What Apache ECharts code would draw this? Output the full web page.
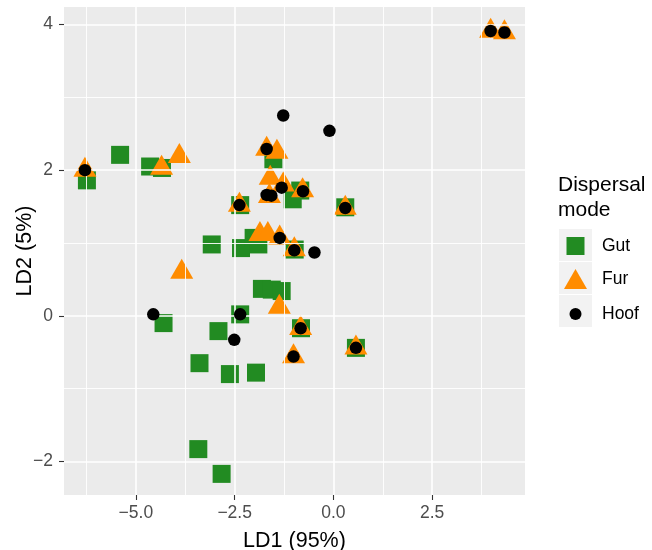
<!DOCTYPE html>
<html>
<head>
<meta charset="utf-8">
<script src="https://cdn.jsdelivr.net/npm/echarts@6/dist/echarts.min.js"></script>
<style>html,body{margin:0;padding:0;background:#fff}#c{width:652px;height:550px}</style>
</head>
<body>
<div id="c"></div>
<script>
// ---- data ----
const gut = [[-6.24,1.86],[-5.40,2.21],[-4.64,2.05],[-4.34,2.03],[-1.52,2.15],[-2.36,1.52],[-1.03,1.60],[-0.84,1.72],[0.30,1.49],[-3.08,0.98],[-2.34,0.93],[-2.02,1.07],[-1.90,0.98],[-0.98,0.91],[-1.81,0.37],[-1.56,0.36],[-1.31,0.34],[-2.36,0.02],[-4.30,-0.10],[-2.91,-0.21],[-0.82,-0.17],[-3.39,-0.65],[-2.62,-0.80],[-1.96,-0.78],[-3.42,-1.83],[-2.83,-2.17],[0.57,-0.44]];
const fur = [[-6.29,2.00],[-4.35,2.03],[-3.90,2.19],[-1.69,2.29],[-1.43,2.25],[-1.60,1.89],[-1.27,1.80],[-0.78,1.72],[-2.38,1.52],[-1.62,1.64],[0.30,1.48],[-1.86,1.12],[-1.66,1.12],[-1.36,1.07],[-0.99,0.91],[-3.84,0.60],[-1.37,0.12],[-0.83,-0.17],[-1.01,-0.56],[0.57,-0.44],[3.98,3.91],[4.33,3.89]];
const hoof = [[-6.29,2.00],[-2.38,1.52],[-1.69,2.29],[-1.27,2.75],[-0.10,2.54],[-1.69,1.66],[-1.57,1.65],[-1.31,1.76],[-0.77,1.71],[0.30,1.48],[-1.36,1.07],[-0.99,0.90],[-0.48,0.87],[-4.56,0.02],[-2.36,0.02],[-2.51,-0.33],[-0.83,-0.17],[-1.01,-0.56],[0.57,-0.44],[3.98,3.91],[4.33,3.89]];
const xMajor = [-5, -2.5, 0, 2.5];
const xMinor = [-6.25, -3.75, -1.25, 1.25, 3.75];
const yMajor = [-2, 0, 2, 4];
const yMinor = [-1, 1, 3];
const seriesNames = ['Gut', 'Fur', 'Hoof'];
const legendTitle = 'Dispersal\nmode';
const xTitle = 'LD1 (95%)';
const yTitle = 'LD2 (5%)';

const minus = s => String(s).replace('-', '\u2212');
const FONT = 'Liberation Sans, Arial, sans-serif';

const chart = echarts.init(document.getElementById('c'), null, {renderer: 'canvas'});

const gridLines = [];
const gl = (w) => ({color: '#FFFFFF', width: w, opacity: 1, type: 'solid'});
xMinor.forEach(v => gridLines.push({xAxis: v, lineStyle: gl(0.9)}));
yMinor.forEach(v => gridLines.push({yAxis: v, lineStyle: gl(0.9)}));
xMajor.forEach(v => gridLines.push({xAxis: v, lineStyle: gl(1.6)}));
yMajor.forEach(v => gridLines.push({yAxis: v, lineStyle: gl(1.6)}));

const keyBox = (top) => ({type: 'rect', left: 559, top: top, shape: {width: 33, height: 32}, style: {fill: '#F2F2F2'}, silent: true});
const legText = (pad) => ({fontSize: 17.5, color: '#000', fontFamily: FONT, padding: [0, 0, 0, pad]});

const option = {
  animation: false,
  backgroundColor: '#fff',
  textStyle: {fontFamily: FONT},
  grid: {left: 64, right: 127, top: 7, bottom: 55, show: true, backgroundColor: '#EBEBEB', borderWidth: 0,
    containLabel: false, outerBoundsMode: 'none'},
  title: {text: legendTitle, left: 558, top: 173, padding: 0,
    textStyle: {fontSize: 21, fontWeight: 'normal', color: '#000', lineHeight: 25, fontFamily: FONT}},
  graphic: [keyBox(229), keyBox(262), keyBox(295)],
  legend: [
    {data: [seriesNames[0]], left: 566.5, top: 237, orient: 'vertical', padding: 0, itemWidth: 18, itemHeight: 18, selectedMode: false,
      textStyle: legText(12.5)},
    {data: [seriesNames[1]], left: 564, top: 269, orient: 'vertical', padding: 0, itemWidth: 23, itemHeight: 20, selectedMode: false,
      textStyle: legText(10)},
    {data: [seriesNames[2]], left: 569.5, top: 305, orient: 'vertical', padding: 0, itemWidth: 12, itemHeight: 12, selectedMode: false,
      textStyle: legText(15.5)}
  ],
  xAxis: {
    type: 'value', min: -6.82, max: 4.85,
    name: xTitle, nameLocation: 'middle', nameGap: 35, nameMoveOverlap: false,
    nameTextStyle: {fontSize: 21.5, color: '#000', fontFamily: FONT},
    axisLine: {show: false, onZero: false},
    axisTick: {show: true, length: 5, customValues: xMajor, lineStyle: {color: '#333', width: 1.1}},
    axisLabel: {customValues: xMajor, margin: 9, fontSize: 17.5, color: '#4D4D4D', fontFamily: FONT,
      formatter: v => minus(Number(v).toFixed(1))},
    splitLine: {show: false}
  },
  yAxis: {
    type: 'value', min: -2.46, max: 4.24,
    name: yTitle, nameLocation: 'middle', nameGap: 28, nameMoveOverlap: false,
    nameTextStyle: {fontSize: 21.5, color: '#000', fontFamily: FONT},
    axisLine: {show: false, onZero: false},
    axisTick: {show: true, length: 5, customValues: yMajor, lineStyle: {color: '#333', width: 1.1}},
    axisLabel: {customValues: yMajor, margin: 11, fontSize: 17.5, color: '#4D4D4D', fontFamily: FONT,
      formatter: v => minus(Math.round(v))},
    splitLine: {show: false}
  },
  series: [
    {type: 'scatter', name: '_grid', data: [], silent: true, z: 1,
      markLine: {silent: true, symbol: ['none', 'none'], label: {show: false}, animation: false,
        lineStyle: {color: '#FFFFFF', type: 'solid', opacity: 1}, emphasis: {disabled: true}, data: gridLines}},
    {type: 'scatter', name: seriesNames[0], data: gut, symbol: 'rect', symbolSize: 18, z: 3,
      itemStyle: {color: '#228B22', opacity: 1}},
    {type: 'scatter', name: seriesNames[1], data: fur, symbol: 'triangle', symbolSize: [23, 20], symbolOffset: [0, -3.3], z: 4,
      itemStyle: {color: '#FF8C00', opacity: 1}},
    {type: 'scatter', name: seriesNames[2], data: hoof, symbol: 'circle', symbolSize: 12.5, z: 5,
      itemStyle: {color: '#000', opacity: 1}}
  ]
};
chart.setOption(option);
</script>
</body>
</html>
